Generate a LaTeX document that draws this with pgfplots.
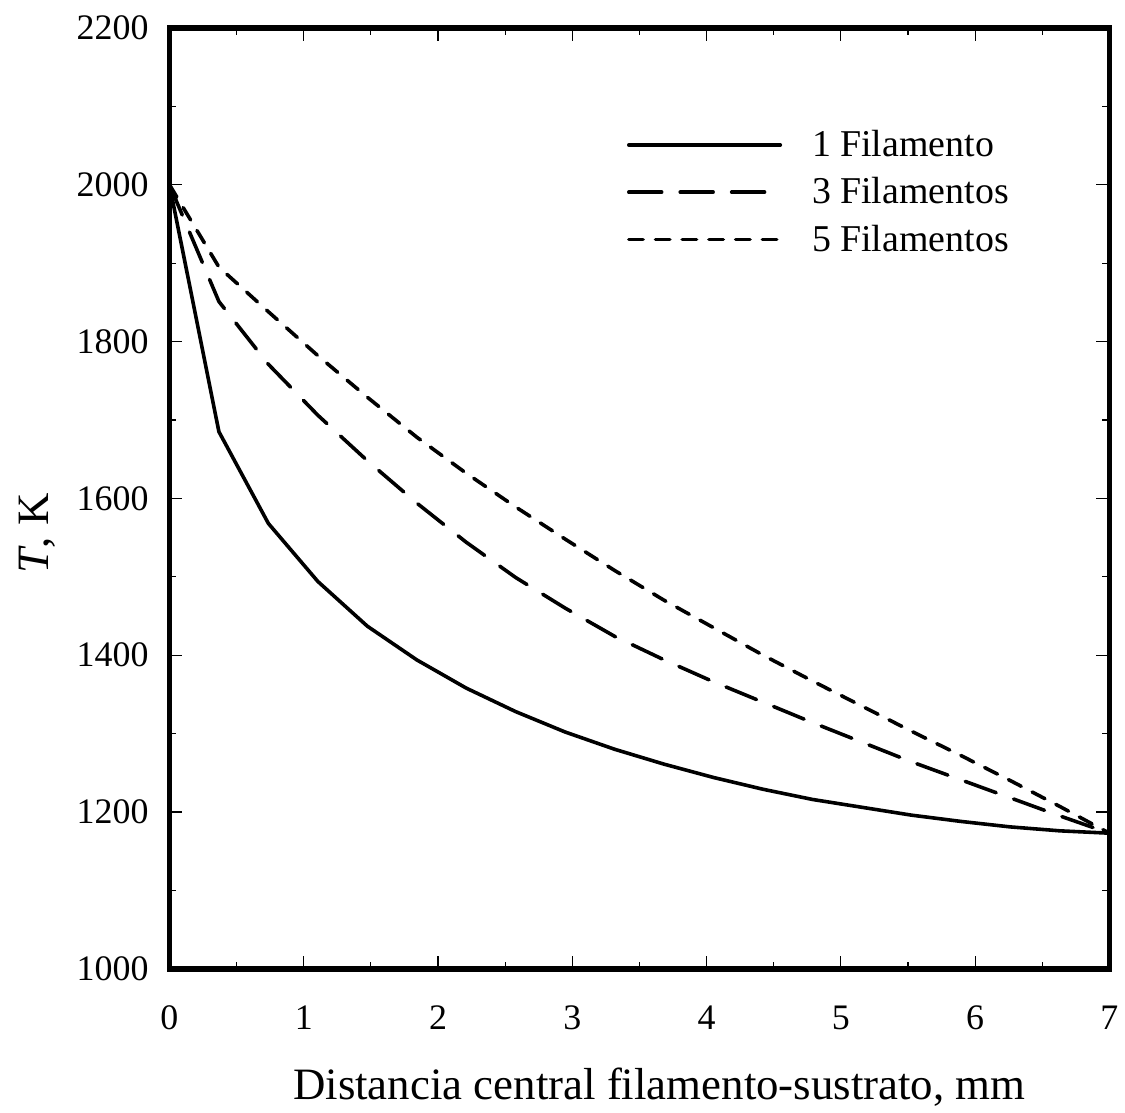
\documentclass[border=0pt]{standalone}
\usepackage{fontspec}
\setmainfont{Liberation Serif}
\usepackage{pgfplots}
\pgfplotsset{compat=1.18}

\pgfplotstableread{
x T
0 2000
0.3684 1685
0.7368 1568
1.1053 1494
1.4737 1437
1.8421 1394
2.2105 1358
2.5789 1328
2.9474 1302
3.3158 1280
3.6842 1261
4.0526 1244
4.4211 1229
4.7895 1216
5.1579 1206
5.5263 1196
5.8947 1188
6.2632 1181
6.6316 1176
7 1173
}\unfil

\pgfplotstableread{
x T
0 2000
0.3684 1851
0.7368 1771
1.1053 1706
1.4737 1648
1.8421 1594
2.2105 1544
2.5789 1499
2.9474 1460
3.3158 1424
3.6842 1394
4.0526 1366
4.4211 1340
4.7895 1314
5.1579 1289
5.5263 1264
5.8947 1241
6.2632 1218
6.6316 1195
7 1173
}\tresfil

\pgfplotstableread{
x T
0 2000
0.3684 1895
0.7368 1838
1.1053 1782
1.4737 1729
1.8421 1678
2.2105 1632
2.5789 1589
2.9474 1548
3.3158 1508
3.6842 1470
4.0526 1435
4.4211 1400
4.7895 1367
5.1579 1335
5.5263 1303
5.8947 1272
6.2632 1240
6.6316 1207
7 1173
}\cincofil

\begin{document}
\begin{tikzpicture}
\begin{axis}[
  scale only axis,
  width=471.5pt, height=472pt,
  xmin=0, xmax=7, ymin=1000, ymax=2200,
  xtick={0,...,7},
  ytick={1000,1200,...,2200},
  minor x tick num=1,
  minor y tick num=1,
  tick align=inside,
  major tick length=6.5pt,
  minor tick length=3.5pt,
  tick style={line width=0.6pt, black},
  axis line style={line width=2.8pt},
  /pgf/number format/assume math mode=true,
  /pgf/number format/set thousands separator={},
  ticklabel style={font=\rmfamily\fontsize{18}{20}\selectfont},
  xticklabel style={yshift=-15pt},
  yticklabel style={xshift=-7pt},
  xlabel={Distancia central filamento-sustrato, mm},
  ylabel={\textit{T}, K},
  label style={font=\rmfamily\fontsize{22.5}{26}\selectfont},
  xlabel style={yshift=-12pt, xshift=10pt},
  ylabel style={at={(ticklabel cs:0.463)}, yshift=4pt},
  legend style={draw=none, fill=none, at={(0.48,0.9)}, anchor=north west,
    font=\rmfamily\fontsize{19}{20}\selectfont, row sep=5pt},
  legend cell align=left,
  legend image code/.code={\draw[#1] (0pt,0pt) -- (76pt,0pt);},
]
\addplot[black, no marks, line width=1.8pt, line cap=round]
  table[x=x, y=T] {\unfil};
\addlegendentry{\hspace{13pt}1 Filamento}
\addplot[black, no marks, line width=1.8pt, line cap=round,
  dash pattern=on 16.5pt off 9.3pt] table[x=x, y=T] {\tresfil};
\addlegendentry{\hspace{13pt}3 Filamentos}
\addplot[black, no marks, line width=1.8pt, line cap=round,
  dash pattern=on 7.2pt off 6.2pt] table[x=x, y=T] {\cincofil};
\addlegendentry{\hspace{13pt}5 Filamentos}
\end{axis}
\path (current axis.south west) ++(-85pt,-67pt) coordinate (bbA);
\path (current axis.north east) ++(6pt,14pt) coordinate (bbB);
\path (bbA) rectangle (bbB);
\end{tikzpicture}
\end{document}
